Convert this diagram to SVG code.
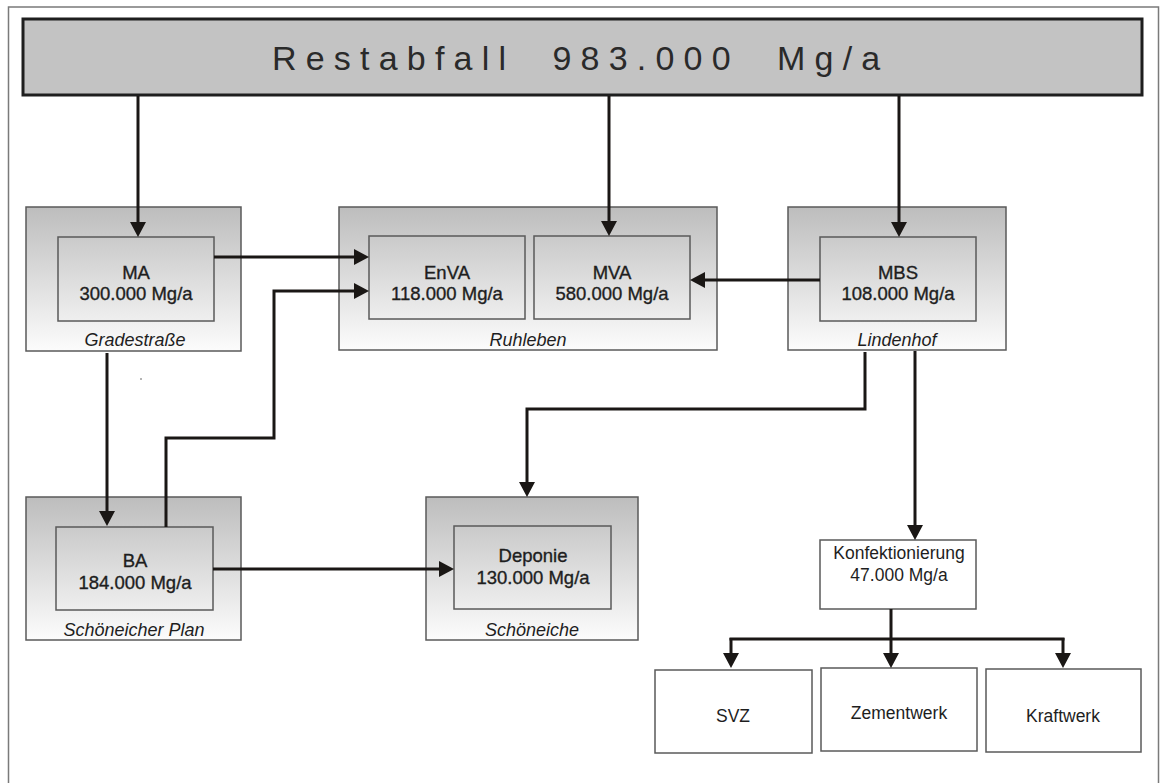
<svg xmlns="http://www.w3.org/2000/svg" width="1164" height="783" viewBox="0 0 1164 783">
<defs>
<linearGradient id="g" x1="0" y1="0" x2="0" y2="1">
<stop offset="0" stop-color="#bdbdbd"/>
<stop offset="1" stop-color="#fcfcfc"/>
</linearGradient>
<marker id="ah" markerUnits="userSpaceOnUse" markerWidth="16" markerHeight="16" refX="11" refY="8" orient="auto">
<path d="M0,0 L15,8 L0,16 Z" fill="#1a1715"/>
</marker>
</defs>
<style>
.site{fill:url(#g);stroke:#5a5a5a;stroke-width:1.5}
.inner{fill:none;stroke:#5a5a5a;stroke-width:1.5}
.plain{fill:#fff;stroke:#5a5a5a;stroke-width:1.5}
.lbl{font-family:"Liberation Sans",Arial,sans-serif;font-size:18.5px;fill:#1e1e1e;stroke:#1e1e1e;stroke-width:0.35;text-anchor:middle}
.loc{font-family:"Liberation Sans",Arial,sans-serif;font-size:18px;font-style:italic;fill:#1e1e1e;text-anchor:middle}
.txt{font-family:"Liberation Sans",Arial,sans-serif;font-size:17.5px;fill:#1e1e1e;text-anchor:middle}
.con{fill:none;stroke:#1a1715;stroke-width:3}
.arr{marker-end:url(#ah)}
</style>
<rect x="0" y="0" width="1164" height="783" fill="#fff"/>
<rect x="8.5" y="7" width="1150" height="800" fill="none" stroke="#7a7a7a" stroke-width="1.5"/>

<g id="restabfall">
<rect x="23" y="19" width="1119" height="76" fill="#c3c3c3" stroke="#1e1e1e" stroke-width="3"/>
<text x="272" y="70" xml:space="preserve" style="font-family:'Liberation Sans',Arial,sans-serif;font-size:34px;letter-spacing:9.2px;fill:#2a2a2a">Restabfall  983.000  Mg/a</text>
</g>

<g id="gradestrasse">
<rect class="site" x="26" y="207" width="215" height="144"/>
<rect class="inner" x="58" y="237" width="156" height="84"/>
<text class="lbl" x="136" y="279">MA</text>
<text class="lbl" x="136" y="300">300.000 Mg/a</text>
<text class="loc" x="135" y="346">Gradestraße</text>
</g>

<g id="ruhleben">
<rect class="site" x="339" y="207" width="378" height="143"/>
<rect class="inner" x="369" y="236" width="156" height="83"/>
<rect class="inner" x="534" y="236" width="156" height="83"/>
<text class="lbl" x="447" y="279">EnVA</text>
<text class="lbl" x="447" y="300">118.000 Mg/a</text>
<text class="lbl" x="612" y="279">MVA</text>
<text class="lbl" x="612" y="300">580.000 Mg/a</text>
<text class="loc" x="528" y="346">Ruhleben</text>
</g>

<g id="lindenhof">
<rect class="site" x="788" y="207" width="218" height="143"/>
<rect class="inner" x="820" y="237" width="156" height="84"/>
<text class="lbl" x="898" y="279">MBS</text>
<text class="lbl" x="898" y="300">108.000 Mg/a</text>
<text class="loc" x="897" y="346">Lindenhof</text>
</g>

<g id="schoeneicher-plan">
<rect class="site" x="26" y="497" width="215" height="143"/>
<rect class="inner" x="56" y="527" width="157" height="83"/>
<text class="lbl" x="135" y="567">BA</text>
<text class="lbl" x="135" y="589">184.000 Mg/a</text>
<text class="loc" x="134" y="636">Schöneicher Plan</text>
</g>

<g id="schoeneiche">
<rect class="site" x="426" y="497" width="212" height="143"/>
<rect class="inner" x="454" y="526" width="157" height="83"/>
<text class="lbl" x="533" y="562">Deponie</text>
<text class="lbl" x="533" y="584">130.000 Mg/a</text>
<text class="loc" x="532" y="636">Schöneiche</text>
</g>

<g id="konfektionierung">
<rect class="plain" x="820" y="540" width="156" height="69"/>
<text class="txt" x="899" y="559">Konfektionierung</text>
<text class="txt" x="899" y="581">47.000 Mg/a</text>
</g>

<g id="svz">
<rect class="plain" x="655" y="670" width="157" height="83"/>
<text class="txt" x="733" y="722">SVZ</text>
</g>
<g id="zementwerk">
<rect class="plain" x="821" y="668" width="156" height="83"/>
<text class="txt" x="899" y="719">Zementwerk</text>
</g>
<g id="kraftwerk">
<rect class="plain" x="986" y="669" width="155" height="83"/>
<text class="txt" x="1063" y="722">Kraftwerk</text>
</g>

<g id="connectors">
<path class="con arr" d="M138,96 V233"/>
<path class="con arr" d="M609,96 V232"/>
<path class="con arr" d="M899,96 V233"/>
<path class="con arr" d="M214,257 H365"/>
<path class="con arr" d="M166,527 V438 H274 V291 H365"/>
<path class="con arr" d="M820,280 H694"/>
<path class="con arr" d="M107,353 V522"/>
<path class="con arr" d="M865,352 V409 H527 V493"/>
<path class="con arr" d="M915,351 V536"/>
<path class="con arr" d="M213,569 H450"/>
<path class="con" d="M891,609 V639 M729.5,639 H1064.5"/>
<path class="con arr" d="M731,638 V664"/>
<path class="con arr" d="M891,638 V664"/>
<path class="con arr" d="M1063,638 V664"/>
<circle cx="141" cy="379" r="0.8" fill="#555"/>
</g>
</svg>
